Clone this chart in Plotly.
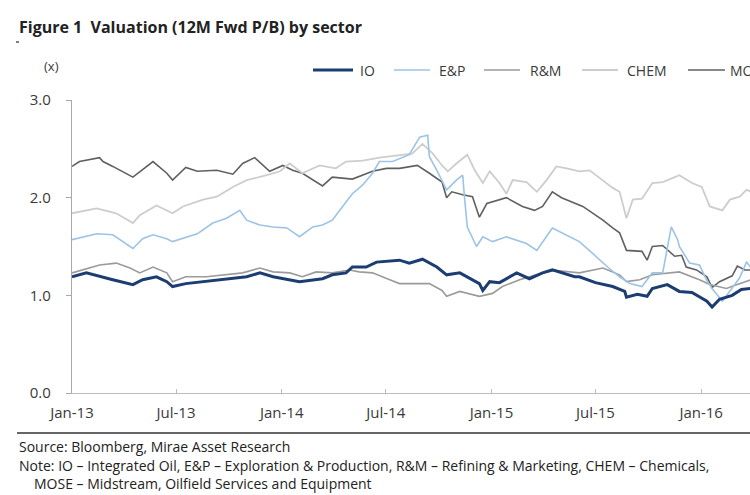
import plotly.graph_objects as go

# ---------------- data ----------------
io_dates = ["2013-01-01","2013-01-26","2013-03-13","2013-04-17","2013-05-04","2013-05-28","2013-06-15","2013-06-25",
            "2013-07-18","2013-08-17","2013-10-08","2013-11-01","2013-11-24","2013-12-17","2014-02-01","2014-03-13",
            "2014-03-30","2014-04-23","2014-05-04","2014-05-28","2014-06-15","2014-07-25","2014-08-11","2014-09-03",
            "2014-09-28","2014-10-15","2014-11-07","2014-12-11","2014-12-17","2014-12-29","2015-01-15","2015-02-14",
            "2015-03-08","2015-03-31","2015-04-17","2015-05-26","2015-06-03","2015-07-01","2015-07-31","2015-08-21",
            "2015-08-24","2015-09-12","2015-09-29","2015-10-08","2015-11-03","2015-11-24","2015-12-16","2016-01-11",
            "2016-01-20","2016-02-02","2016-02-24","2016-03-11","2016-03-28"]
io_vals = [1.19,1.23,1.16,1.11,1.16,1.19,1.14,1.09,
           1.12,1.14,1.17,1.19,1.23,1.19,1.14,1.17,
           1.21,1.23,1.29,1.29,1.34,1.36,1.33,1.37,
           1.29,1.21,1.23,1.12,1.05,1.14,1.13,1.23,
           1.17,1.23,1.26,1.19,1.19,1.13,1.09,1.04,
           0.98,1.01,0.99,1.07,1.11,1.04,1.03,0.94,
           0.88,0.96,1.00,1.06,1.07]

ep_dates = ["2013-01-01","2013-02-13","2013-03-13","2013-04-17","2013-05-04","2013-05-22","2013-06-15","2013-06-25",
            "2013-08-07","2013-09-03","2013-09-27","2013-10-20","2013-11-01","2013-11-24","2013-12-17","2014-01-10",
            "2014-02-01","2014-02-24","2014-03-13","2014-03-30","2014-04-17","2014-05-04","2014-05-22","2014-06-08",
            "2014-06-20","2014-07-13","2014-08-11","2014-08-29","2014-09-12","2014-09-15","2014-09-28","2014-10-15",
            "2014-11-01","2014-11-12","2014-11-15","2014-11-20","2014-12-06","2014-12-17","2015-01-03","2015-01-27",
            "2015-03-03","2015-03-21","2015-04-17","2015-05-12","2015-06-03","2015-06-26","2015-07-22","2015-08-12",
            "2015-08-30","2015-09-20","2015-10-08","2015-10-26","2015-11-10","2015-11-21","2015-11-24","2015-12-12",
            "2015-12-29","2016-01-11","2016-01-20","2016-02-07","2016-02-20","2016-03-08","2016-03-20","2016-03-28"]
ep_vals = [1.57,1.63,1.62,1.48,1.58,1.62,1.58,1.55,
           1.63,1.74,1.79,1.87,1.77,1.72,1.70,1.69,
           1.60,1.70,1.72,1.77,1.91,2.04,2.13,2.25,
           2.37,2.37,2.44,2.62,2.64,2.42,2.28,2.08,
           2.18,2.23,2.01,1.70,1.50,1.60,1.55,1.60,
           1.53,1.46,1.69,1.62,1.55,1.43,1.29,1.19,
           1.12,1.09,1.23,1.23,1.70,1.57,1.50,1.33,
           1.31,1.15,1.07,0.94,1.04,1.18,1.34,1.28]

rm_dates = ["2013-01-01","2013-02-18","2013-03-19","2013-04-12","2013-04-29","2013-05-22","2013-06-15","2013-06-25",
            "2013-07-18","2013-08-23","2013-10-25","2013-11-24","2013-12-17","2014-01-15","2014-02-06","2014-03-02",
            "2014-03-30","2014-04-29","2014-05-16","2014-06-08","2014-07-08","2014-07-25","2014-08-16","2014-09-15",
            "2014-10-07","2014-10-15","2014-11-07","2014-12-11","2015-01-03","2015-01-20","2015-02-19","2015-03-21",
            "2015-04-17","2015-06-03","2015-07-14","2015-08-12","2015-08-24","2015-09-16","2015-10-08","2015-11-24",
            "2015-12-29","2016-01-16","2016-02-02","2016-02-14","2016-03-04","2016-03-28"]
rm_vals = [1.23,1.31,1.33,1.28,1.23,1.29,1.23,1.14,
           1.19,1.19,1.23,1.28,1.24,1.23,1.19,1.24,
           1.23,1.26,1.24,1.23,1.16,1.12,1.12,1.12,
           1.05,0.99,1.04,0.99,1.02,1.09,1.16,1.21,
           1.26,1.23,1.28,1.21,1.14,1.16,1.21,1.24,
           1.16,1.11,1.09,1.07,1.11,1.16]

chem_dates = ["2013-01-01","2013-02-13","2013-03-19","2013-04-17","2013-04-29","2013-05-28","2013-06-25","2013-07-13",
              "2013-08-17","2013-09-10","2013-10-08","2013-11-01","2013-12-06","2013-12-29","2014-01-15","2014-02-06",
              "2014-03-08","2014-04-05","2014-04-23","2014-05-22","2014-06-20","2014-07-25","2014-08-16","2014-09-03",
              "2014-09-21","2014-10-07","2014-10-17","2014-11-01","2014-11-20","2014-12-03","2014-12-17","2014-12-29",
              "2015-01-15","2015-01-27","2015-02-07","2015-03-03","2015-03-21","2015-04-07","2015-04-24","2015-05-12",
              "2015-06-03","2015-06-21","2015-07-08","2015-07-31","2015-08-12","2015-08-24","2015-09-04","2015-09-20",
              "2015-10-08","2015-10-26","2015-11-12","2015-11-24","2015-12-16","2016-01-02","2016-01-16","2016-02-07",
              "2016-02-20","2016-03-08","2016-03-20","2016-03-28"]
chem_vals = [1.84,1.89,1.84,1.74,1.82,1.92,1.84,1.91,
             1.98,2.01,2.11,2.18,2.23,2.27,2.35,2.25,
             2.33,2.30,2.37,2.38,2.41,2.43,2.45,2.55,
             2.45,2.33,2.27,2.35,2.44,2.28,2.15,2.27,
             2.15,2.04,2.18,2.16,2.06,2.18,2.32,2.30,
             2.27,2.28,2.20,2.10,2.06,1.79,1.98,1.99,
             2.15,2.16,2.20,2.23,2.15,2.11,1.91,1.87,
             1.98,2.01,2.08,2.06]

mose_dates = ["2013-01-01","2013-01-14","2013-02-18","2013-02-24","2013-03-13","2013-04-17","2013-05-22","2013-06-15",
              "2013-06-25","2013-07-18","2013-08-07","2013-09-10","2013-10-08","2013-10-25","2013-11-15","2013-12-11",
              "2014-01-03","2014-01-20","2014-02-06","2014-03-13","2014-03-30","2014-05-04","2014-06-08","2014-07-02",
              "2014-07-25","2014-08-25","2014-09-15","2014-10-07","2014-10-15","2014-10-24","2014-11-12","2014-11-29",
              "2014-12-11","2014-12-24","2015-01-27","2015-02-24","2015-03-17","2015-03-31","2015-04-17","2015-05-03",
              "2015-06-09","2015-06-26","2015-07-14","2015-07-31","2015-08-12","2015-08-24","2015-09-20","2015-09-29",
              "2015-10-08","2015-10-26","2015-11-16","2015-11-28","2015-12-06","2015-12-24","2016-01-11","2016-01-20",
              "2016-02-02","2016-02-24","2016-03-04","2016-03-17","2016-03-28"]
mose_vals = [2.32,2.37,2.41,2.37,2.32,2.21,2.37,2.25,
             2.18,2.31,2.27,2.28,2.24,2.35,2.41,2.27,
             2.33,2.28,2.25,2.12,2.21,2.19,2.27,2.30,
             2.30,2.33,2.25,2.16,2.00,2.06,2.03,2.01,
             1.80,1.94,2.00,1.91,1.87,1.91,2.06,2.00,
             1.91,1.84,1.77,1.69,1.64,1.46,1.45,1.36,
             1.50,1.51,1.40,1.41,1.29,1.26,1.19,1.08,
             1.14,1.20,1.30,1.26,1.26]

y_tick_vals = [0.0, 1.0, 2.0, 3.0]
y_tick_text = ["0.0", "1.0", "2.0", "3.0"]
x_tick_vals = ["2013-01-01","2013-07-01","2014-01-01","2014-07-01","2015-01-01","2015-07-01","2016-01-01"]
x_tick_text = ["Jan-13","Jul-13","Jan-14","Jul-14","Jan-15","Jul-15","Jan-16"]

series = [
    ("IO",   io_dates,   io_vals,   "#1c3d72", 3.0),
    ("E&P",  ep_dates,   ep_vals,   "#9cc3e6", 1.6),
    ("R&M",  rm_dates,   rm_vals,   "#9b9b9b", 1.6),
    ("CHEM", chem_dates, chem_vals, "#cdcdcd", 1.8),
    ("MOSE", mose_dates, mose_vals, "#606060", 1.6),
]

# ---------------- layout geometry ----------------
W, H = 750, 495
L, R, T, B = 72, 0, 100, 102
PW, PH = W - L - R, H - T - B

def px(x):
    return (x - L) / PW

def py(y):
    return (H - B - y) / PH

FONT = "Open Sans, Noto Sans, DejaVu Sans, sans-serif"
TXT = "#3a3a3a"

fig = go.Figure()
for name, d, v, c, w in reversed(series):
    fig.add_trace(go.Scatter(x=d, y=v, mode="lines", name=name,
                             line=dict(color=c, width=w), showlegend=False))

# manual legend (positions in pixels)
legend_pos = {"IO": (313, 353, 358), "E&P": (394, 430, 437), "R&M": (484, 520, 528),
              "CHEM": (582, 618, 625), "MOSE": (688, 725, 728)}
shapes = []
annotations = []
for name, d, v, c, w in series:
    x0, x1, xt = legend_pos[name]
    shapes.append(dict(type="line", xref="paper", yref="paper", x0=px(x0), x1=px(x1),
                       y0=py(70), y1=py(70), line=dict(color=c, width=w)))
    annotations.append(dict(text=name, xref="paper", yref="paper", x=px(xt), y=py(70),
                            xanchor="left", yanchor="middle", showarrow=False,
                            font=dict(family=FONT, size=14, color=TXT)))

# bottom rule and tiny mark under title
shapes.append(dict(type="line", xref="paper", yref="paper", x0=px(17), x1=px(760),
                   y0=py(433), y1=py(433), line=dict(color="#333333", width=1.5)))
shapes.append(dict(type="line", xref="paper", yref="paper", x0=px(16), x1=px(19),
                   y0=py(42), y1=py(42), line=dict(color="#555555", width=1.5)))

annotations += [
    dict(text="<b>Figure 1  Valuation (12M Fwd P/B) by sector</b>", xref="paper", yref="paper",
         x=px(17), y=py(27), xanchor="left", yanchor="middle", showarrow=False,
         font=dict(family=FONT, size=16, color="#222222")),
    dict(text="(x)", xref="paper", yref="paper", x=px(42), y=py(66), xanchor="left",
         yanchor="middle", showarrow=False, font=dict(family=FONT, size=13, color=TXT)),
    dict(text="Source: Bloomberg, Mirae Asset Research", xref="paper", yref="paper",
         x=px(17), y=py(446), xanchor="left", yanchor="middle", showarrow=False,
         font=dict(family=FONT, size=14, color="#222222")),
    dict(text="Note: IO \u2013 Integrated Oil, E&P \u2013 Exploration & Production, R&M \u2013 Refining & Marketing, CHEM \u2013 Chemicals,",
         xref="paper", yref="paper", x=px(17), y=py(465), xanchor="left", yanchor="middle",
         showarrow=False, font=dict(family=FONT, size=14, color="#222222")),
    dict(text="MOSE \u2013 Midstream, Oilfield Services and Equipment", xref="paper", yref="paper",
         x=px(32), y=py(483), xanchor="left", yanchor="middle", showarrow=False,
         font=dict(family=FONT, size=14, color="#222222")),
]

fig.update_layout(
    width=W, height=H,
    margin=dict(l=L, r=R, t=T, b=B, pad=0),
    paper_bgcolor="white", plot_bgcolor="white",
    showlegend=False,
    shapes=shapes, annotations=annotations,
    xaxis=dict(type="date", range=["2013-01-01", "2016-03-26"],
               tickvals=x_tick_vals, ticktext=x_tick_text,
               showgrid=False, zeroline=False, showline=True, linecolor="#bdbdbd", linewidth=1.2,
               ticks="inside", ticklen=4, tickcolor="#bdbdbd",
               tickfont=dict(family=FONT, size=15, color=TXT), ticklabelstandoff=6),
    yaxis=dict(range=[0, 3], tickvals=y_tick_vals, ticktext=y_tick_text,
               showgrid=False, zeroline=False, showline=True, linecolor="#a8a8a8", linewidth=1.2,
               ticks="outside", ticklen=5, tickcolor="#a8a8a8",
               tickfont=dict(family=FONT, size=15, color=TXT), ticklabelstandoff=12),
)

fig.write_html("out.html", config={"displayModeBar": False},
               post_script="document.body.style.margin='0';document.body.style.overflow='hidden';")
